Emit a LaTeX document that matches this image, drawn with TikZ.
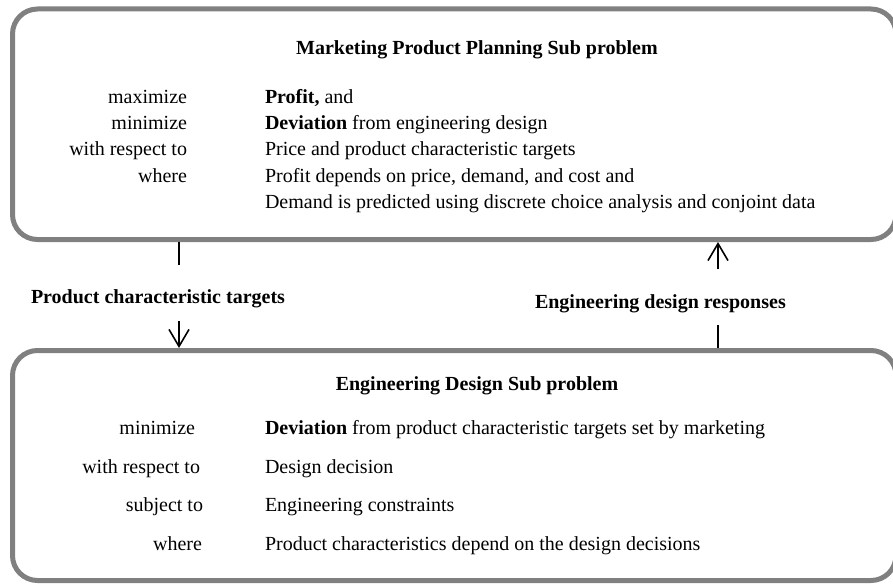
\documentclass[tikz,border=0pt]{standalone}
\usepackage{fontspec}
\setmainfont{Liberation Serif}
\usetikzlibrary{arrows.meta}
\begin{document}
\begin{tikzpicture}[x=1pt,y=-1pt,
  panel/.style={draw=black!50, line width=5pt, rounded corners=25pt, outer sep=0pt, inner sep=0pt, anchor=north west},
  txt/.style={font=\fontsize{20}{24}\selectfont, inner sep=0pt, outer sep=0pt, text=black},
  lab/.style={txt, anchor=base east},
  val/.style={txt, anchor=base west},
  ttl/.style={txt, font=\fontsize{20}{24}\selectfont\bfseries, anchor=base},
  conn/.style={line width=1.6pt, black},
  arr/.style={conn, -{Straight Barb[length=17pt, width=20pt, line width=1.6pt]}}
]
\useasboundingbox (0,0) rectangle (893,583);
% boxes
\node[panel, minimum width=883.5pt, minimum height=230.5pt] (mkt) at (12.5,9) {};
\node[panel, minimum width=883.5pt, minimum height=230pt] (eng) at (12.5,350.5) {};
% top box text
\node[ttl] (t1) at (477,55) {Marketing Product Planning Sub problem};
\node[lab] (l1) at (187,103) {maximize};
\node[lab] (l2) at (187,129.3) {minimize};
\node[lab] (l3) at (187,155.6) {with respect to};
\node[lab] (l4) at (187,182) {where};
\node[val] (v1) at (265,103) {\textbf{Profit,} and};
\node[val] (v2) at (265,129.3) {\textbf{Deviation} from engineering design};
\node[val] (v3) at (265,155.6) {Price and product characteristic targets};
\node[val] (v4) at (265,182) {Profit depends on price, demand, and cost and};
\node[val] (v5) at (265,208.3) {Demand is predicted using discrete choice analysis and conjoint data};
% bottom box text
\node[ttl] (t2) at (477,390.6) {Engineering Design Sub problem};
\node[lab] (m1) at (195,434.5) {minimize};
\node[lab] (m2) at (200,473) {with respect to};
\node[lab] (m3) at (203,511.5) {subject to};
\node[lab] (m4) at (202,550) {where};
\node[val] (w1) at (265,434.5) {\textbf{Deviation} from product characteristic targets set by marketing};
\node[val] (w2) at (265,473) {Design decision};
\node[val] (w3) at (265,511.5) {Engineering constraints};
\node[val] (w4) at (265,550) {Product characteristics depend on the design decisions};
% connector labels
\node[txt, font=\fontsize{20}{24}\selectfont\bfseries, anchor=base west] (pct) at (31,303) {Product characteristic targets};
\node[txt, font=\fontsize{20}{24}\selectfont\bfseries, anchor=base west] (edr) at (535,308) {Engineering design responses};
% connectors
\coordinate (a1) at (179,265);
\coordinate (a2) at (179,321);
\coordinate (b1) at (718,269);
\coordinate (b2) at (718,325);
\draw[conn] ([yshift=-2.5pt]mkt.south -| a1) -- (a1);
\draw[arr] (a2) -- ([yshift=2.5pt]eng.north -| a2);
\draw[arr] (b1) -- ([yshift=-2.5pt]mkt.south -| b1);
\draw[conn] ([yshift=2.5pt]eng.north -| b2) -- (b2);
\end{tikzpicture}
\end{document}
